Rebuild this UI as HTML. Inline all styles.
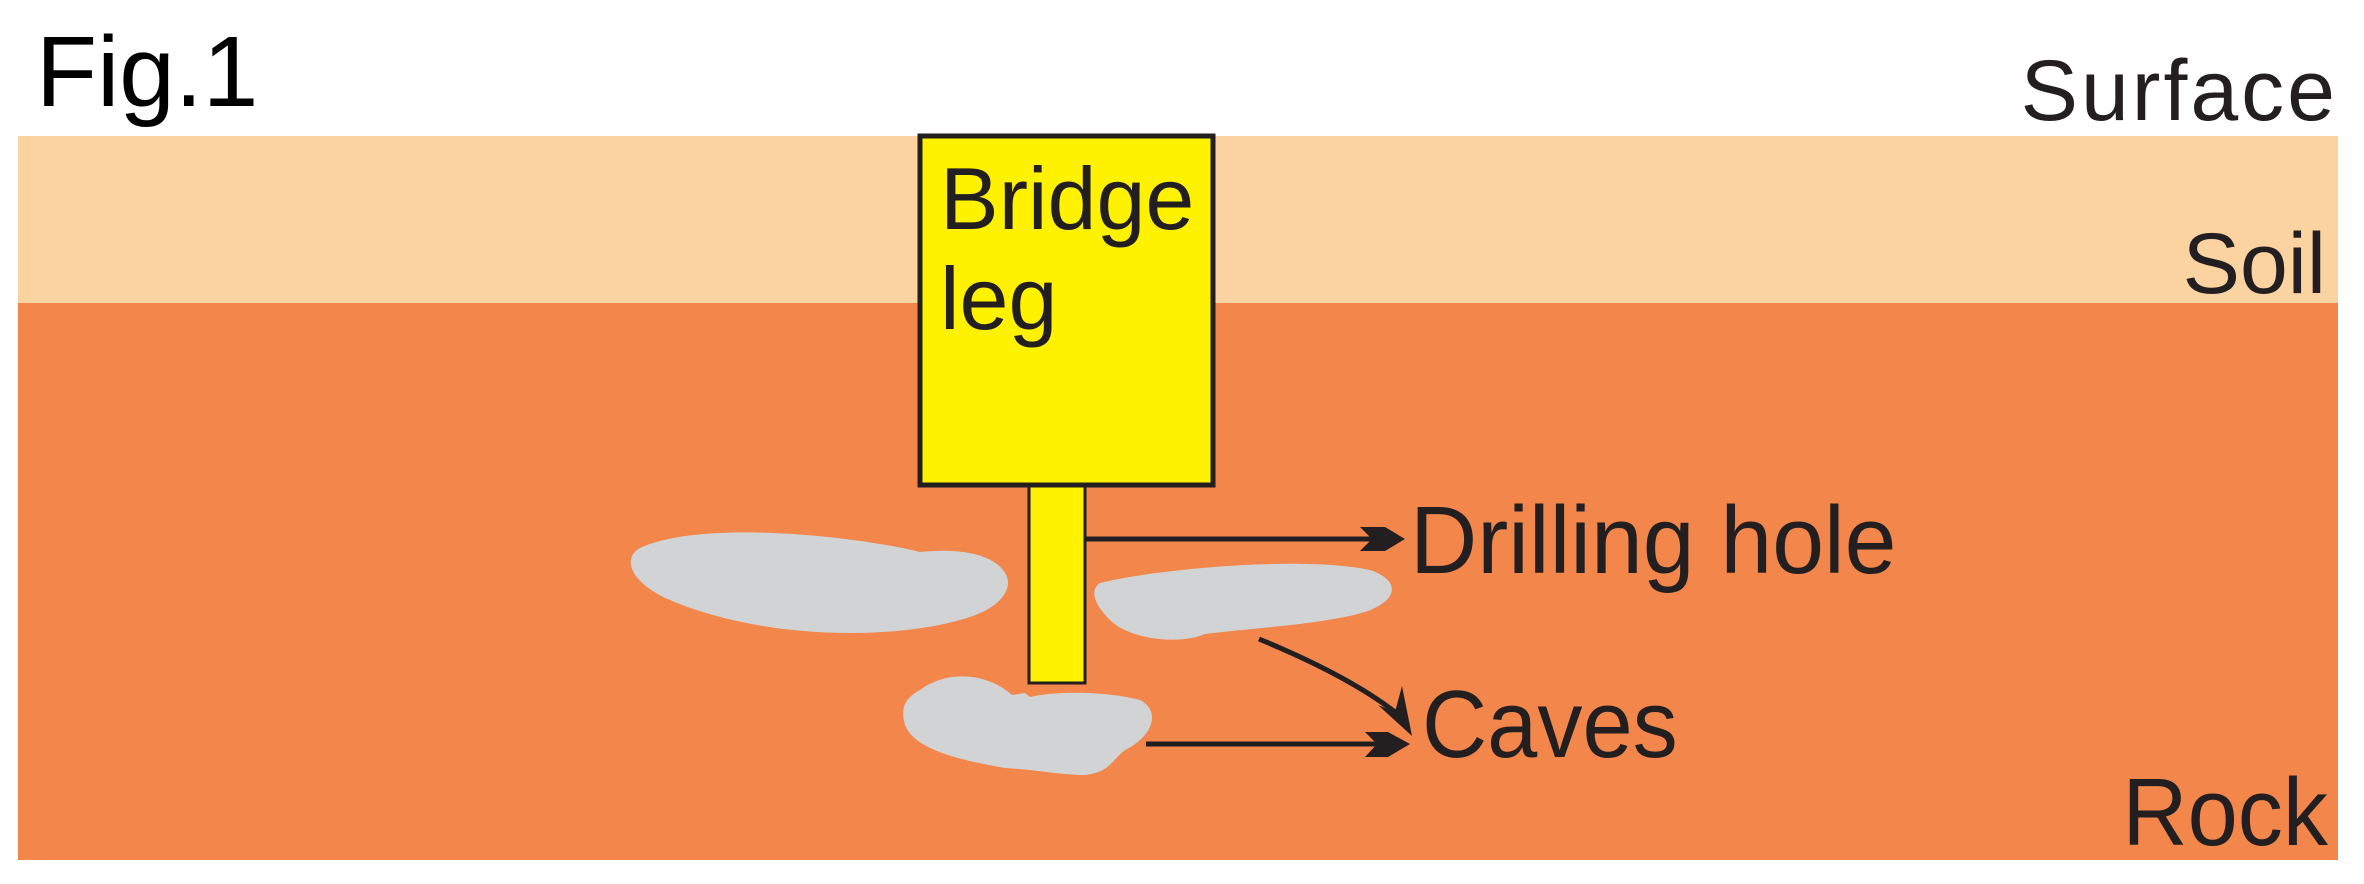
<!DOCTYPE html>
<html><head><meta charset="utf-8"><style>
html,body{margin:0;padding:0;background:#fff;width:2364px;height:884px;overflow:hidden}
svg{display:block}
text{font-family:"Liberation Sans",Arial,sans-serif;fill:#231f20}
</style></head><body>
<svg width="2364" height="884" viewBox="0 0 2364 884" xmlns="http://www.w3.org/2000/svg">
<rect x="18" y="136" width="2320" height="167" fill="#fbd3a0"/>
<rect x="18" y="303" width="2320" height="557" fill="#f2864b"/>
<text x="36" y="106" font-size="100" style="fill:#000">Fig.1</text>
<text x="2338" y="120" font-size="86" text-anchor="end" letter-spacing="3">Surface</text>
<text x="2326" y="293" font-size="86" text-anchor="end">Soil</text>
<text x="2328" y="845" font-size="96" text-anchor="end" transform="translate(2328 0) scale(0.94 1) translate(-2328 0)">Rock</text>
<path d="M640 548 C700 520 850 535 920 552 C990 545 1010 570 1008 585 C1005 600 990 612 960 620 C890 640 760 640 665 598 C625 578 625 556 640 548 Z" fill="#d1d3d4"/>
<path d="M1100 583 C1150 570 1300 555 1370 570 C1400 580 1400 600 1365 612 C1320 625 1250 628 1205 634 C1180 645 1130 640 1110 620 C1090 600 1092 588 1100 583 Z" fill="#d1d3d4"/>
<path d="M920 690 C950 668 990 675 1012 695 L1025 693 L1030 697 C1060 690 1110 692 1140 700 C1160 710 1155 735 1125 750 C1110 762 1110 772 1085 775 C1060 775 1040 770 1005 768 C960 760 915 750 905 725 C900 708 905 698 920 690 Z" fill="#d1d3d4"/>
<rect x="920" y="136" width="293" height="349" fill="#fff200" stroke="#231f20" stroke-width="5"/>
<rect x="1029" y="486" width="56" height="197" fill="#fff200" stroke="#231f20" stroke-width="3"/>
<text x="940" y="229" font-size="88">Bridge</text>
<text x="940" y="329" font-size="88">leg</text>
<g stroke="#231f20" stroke-width="5" fill="none">
<line x1="1086" y1="539" x2="1380" y2="539"/>
<line x1="1146" y1="744" x2="1385" y2="744"/>
<path d="M1259 639 C1310 660 1360 685 1395 712"/>
</g>
<g fill="#231f20">
<path d="M1360 527 L1385 527 L1405 539 L1385 551 L1360 551 L1372 539 Z"/>
<path d="M1365 732 L1388 732 L1410 744 L1388 757 L1365 757 L1377 744 Z"/>
<path d="M1402 686 L1412 736 L1378 705 L1395 712 Z"/>
</g>
<text x="1410" y="573" font-size="96" transform="translate(1410 0) scale(0.97 1) translate(-1410 0)">Drilling hole</text>
<text x="1422" y="757" font-size="96" transform="translate(1422 0) scale(0.94 1) translate(-1422 0)">Caves</text>
</svg>
</body></html>
